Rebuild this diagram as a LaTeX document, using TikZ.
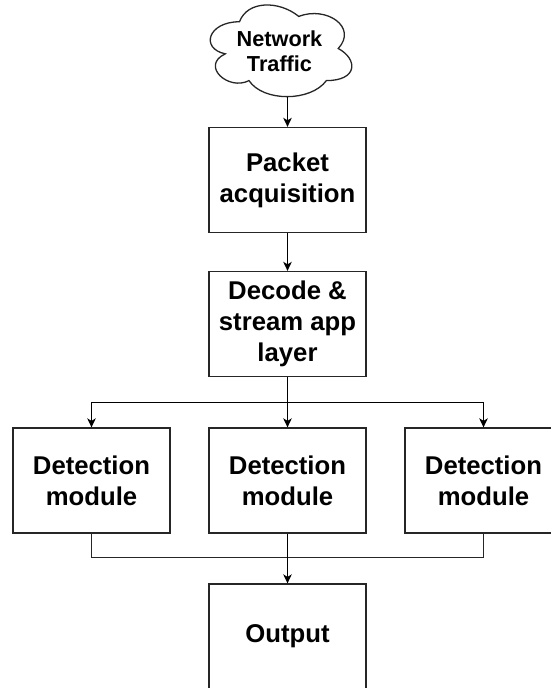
\documentclass[tikz,border=0pt]{standalone}
\usepackage{fontspec}
\setmainfont{Liberation Sans}
\usetikzlibrary{arrows.meta}
\begin{document}
\begin{tikzpicture}[x=1pt,y=-1pt,
  line width=1.3pt,
  boxnode/.style={draw=black!85, line width=1.3pt, rectangle, minimum width=157pt, minimum height=105pt,
    inner sep=0pt, align=center, font=\fontsize{25.7}{31}\selectfont\bfseries},
  cloudtext/.style={align=center, inner sep=0pt, font=\fontsize{21.7}{25}\selectfont\bfseries},
  arr/.style={draw=black, line width=1.3pt, -{Stealth[length=9pt,width=8.5pt,inset=2.5pt]}},
  lin/.style={draw=black!85, line width=1.3pt}]
\useasboundingbox (0,0) rectangle (551,688);
\clip (0,0) rectangle (551,688);
% cloud
\draw[black!85, line width=1.3pt]
  (239.5,21.75) .. controls (207.9,21.75) and (200,48.5) .. (225.28,53.85)
  .. controls (200,65.62) and (228.44,91.3) .. (248.98,80.6)
  .. controls (263.2,102) and (310.6,102) .. (326.4,80.6)
  .. controls (358,80.6) and (358,59.2) .. (338.25,48.5)
  .. controls (358,27.1) and (326.4,5.7) .. (298.75,16.4)
  .. controls (279,0.35) and (247.4,0.35) .. (239.5,21.75) -- cycle;
\node[cloudtext] (net) at (279.5,51) {Network\\Traffic};
\coordinate (cb) at (287.5,96.7);
% boxes
\node[boxnode] (pkt) at (287.5,180) {Packet\\acquisition};
\node[boxnode] (dec) at (287.5,324) {Decode \&\\stream app\\layer};
\node[boxnode] (d1) at (91.5,480.5) {Detection\\module};
\node[boxnode] (d2) at (287.5,480.5) {Detection\\module};
\node[boxnode] (d3) at (483.5,480.5) {Detection\\module};
\node[boxnode] (out) at (287.5,636.5) {Output};
\coordinate (br) at (287.5,402.3);
\coordinate (mg) at (287.5,557.7);
% connectors
\draw[arr] (cb) -- (pkt.north);
\draw[arr] (pkt.south) -- (dec.north);
\draw[arr] (dec.south) -- (d2.north);
\draw[arr] (br) -| (d1.north);
\draw[arr] (br) -| (d3.north);
\draw[lin] (d1.south) |- (mg);
\draw[lin] (d3.south) |- (mg);
\draw[arr] (d2.south) -- (out.north);
\end{tikzpicture}
\end{document}
